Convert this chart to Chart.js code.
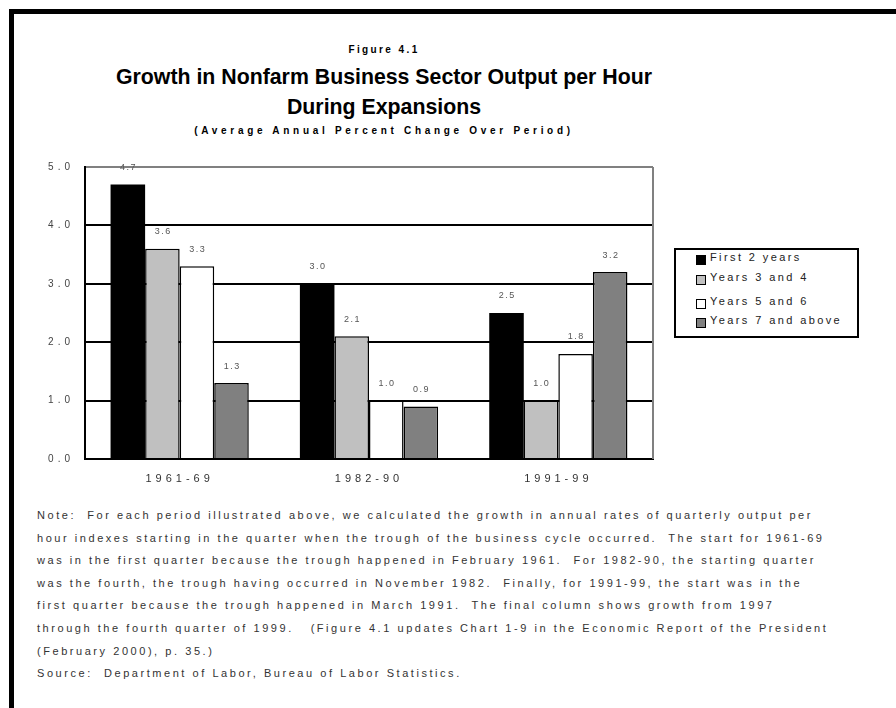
<!DOCTYPE html>
<html lang="en">
<head>
  <meta charset="UTF-8">
  <title>Figure 4.1</title>
  <script src="https://cdn.jsdelivr.net/npm/chart.js"></script>
  <style>
    body { margin: 0; background: #fff; font-family: "Liberation Sans", Arial, sans-serif; }
    #page { position: relative; width: 896px; height: 708px; overflow: hidden; }
    #frame { position: absolute; left: 9px; top: 9px; width: 900px; height: 720px; border-left: 5px solid #000; border-top: 5px solid #000; }
    .t { position: absolute; left: 0; width: 768px; text-align: center; color: #000; white-space: nowrap; }
    #fig { top: 44px; font-size: 10px; line-height: 12px; font-weight: bold; letter-spacing: 2.4px; }
    #title { top: 62px; font-size: 21.3px; line-height: 30px; font-weight: bold; }
    #sub { top: 125px; font-size: 10px; line-height: 12px; font-weight: bold; letter-spacing: 3.7px; }
    #wrap { position: absolute; left: 0; top: 150px; width: 670px; height: 340px; }
    #legend { position: absolute; left: 674px; top: 248px; width: 181px; height: 86px; border: 2px solid #000; }
    .item { position: absolute; left: 20px; font-size: 11px; line-height: 14px; letter-spacing: 2.4px; color: #222; white-space: nowrap; }
    .box { position: absolute; left: 0; top: 5px; width: 8px; height: 8px; border: 1.5px solid #000; }
    .item span { padding-left: 14px; }
    #notes { position: absolute; left: 37px; top: 504px; font-size: 11px; line-height: 22.6px; letter-spacing: 2.55px; color: #333; white-space: pre; }
  </style>
</head>
<body>
<div id="page">
  <div id="frame"></div>
  <div class="t" id="fig">Figure 4.1</div>
  <div class="t" id="title">Growth in Nonfarm Business Sector Output per Hour<br>During Expansions</div>
  <div class="t" id="sub">(Average Annual Percent Change Over Period)</div>
  <div id="wrap"><canvas id="chart"></canvas></div>
  <div id="legend"></div>
  <div id="notes">Note:  For each period illustrated above, we calculated the growth in annual rates of quarterly output per
hour indexes starting in the quarter when the trough of the business cycle occurred.  The start for 1961-69
was in the first quarter because the trough happened in February 1961.  For 1982-90, the starting quarter
was the fourth, the trough having occurred in November 1982.  Finally, for 1991-99, the start was in the
first quarter because the trough happened in March 1991.  The final column shows growth from 1997
through the fourth quarter of 1999.   (Figure 4.1 updates Chart 1-9 in the Economic Report of the President
(February 2000), p. 35.)
Source:  Department of Labor, Bureau of Labor Statistics.</div>
</div>
<script>
const periods = ['1961-69', '1982-90', '1991-99'];
const seriesNames = ['First 2 years', 'Years 3 and 4', 'Years 5 and 6', 'Years 7 and above'];
const seriesColors = ['#000000', '#c0c0c0', '#ffffff', '#808080'];
const firstTwo = [4.7, 3.0, 2.5];
const yearsThreeFour = [3.6, 2.1, 1.0];
const yearsFiveSix = [3.3, 1.0, 1.8];
const yearsSevenUp = [1.3, 0.9, 3.2];
const yTicks = [0, 1, 2, 3, 4, 5];

const seriesValues = [firstTwo, yearsThreeFour, yearsFiveSix, yearsSevenUp];

// legend in the boxed panel on the right
const legendTops = [0, 20, 44, 63];
const legend = document.getElementById('legend');
seriesNames.forEach((name, i) => {
  const row = document.createElement('div');
  row.className = 'item';
  row.style.top = legendTops[i] + 'px';
  row.innerHTML = '<div class="box" style="background:' + seriesColors[i] + '"></div><span>' + name + '</span>';
  legend.appendChild(row);
});

const extras = {
  id: 'extras',
  beforeDraw(chart) {
    chart.ctx.letterSpacing = '4px';
  },
  afterDatasetsDraw(chart) {
    const ctx = chart.ctx;
    const a = chart.chartArea;
    ctx.save();
    ctx.strokeStyle = '#808080';
    ctx.lineWidth = 2;
    ctx.beginPath();
    ctx.moveTo(a.right, a.top);
    ctx.lineTo(a.right, a.bottom);
    ctx.stroke();
    ctx.letterSpacing = '1.5px';
    ctx.font = '9px "Liberation Sans", Arial, sans-serif';
    ctx.fillStyle = '#555';
    ctx.textAlign = 'center';
    ctx.textBaseline = 'middle';
    chart.data.datasets.forEach((ds, i) => {
      chart.getDatasetMeta(i).data.forEach((bar, j) => {
        ctx.fillText(ds.data[j].toFixed(1), bar.x + 0.75, bar.y - 17);
      });
    });
    ctx.restore();
  }
};

new Chart(document.getElementById('chart'), {
  type: 'bar',
  data: {
    labels: periods,
    datasets: seriesNames.map((name, i) => ({
      label: name,
      data: seriesValues[i],
      backgroundColor: seriesColors[i],
      borderColor: '#000',
      borderWidth: i === 0 ? 0 : 1.5,
      categoryPercentage: 0.73,
      barPercentage: 1.0
    }))
  },
  options: {
    responsive: true,
    maintainAspectRatio: false,
    animation: false,
    layout: { padding: { top: 15, right: 17, left: 0, bottom: 0 } },
    plugins: { legend: { display: false }, tooltip: { enabled: false } },
    scales: {
      x: {
        grid: { display: false },
        border: { color: '#000', width: 2 },
        ticks: { color: '#333', padding: 5, font: { size: 11, family: '"Liberation Sans", Arial, sans-serif' } },
        afterFit(s) { s.height = 31; }
      },
      y: {
        min: 0,
        max: 5,
        afterBuildTicks(s) { s.ticks = yTicks.map(v => ({ value: v })); },
        grid: {
          color: c => (c.tick && c.tick.value === 5 ? '#808080' : '#000'),
          lineWidth: 2,
          drawTicks: false
        },
        border: { color: '#000', width: 2 },
        ticks: {
          color: '#444',
          padding: 11,
          font: { size: 10, family: '"Liberation Sans", Arial, sans-serif' },
          callback: v => Number(v).toFixed(1)
        },
        afterFit(s) { s.width = 85; }
      }
    }
  },
  plugins: [extras]
});
</script>
</body>
</html>
